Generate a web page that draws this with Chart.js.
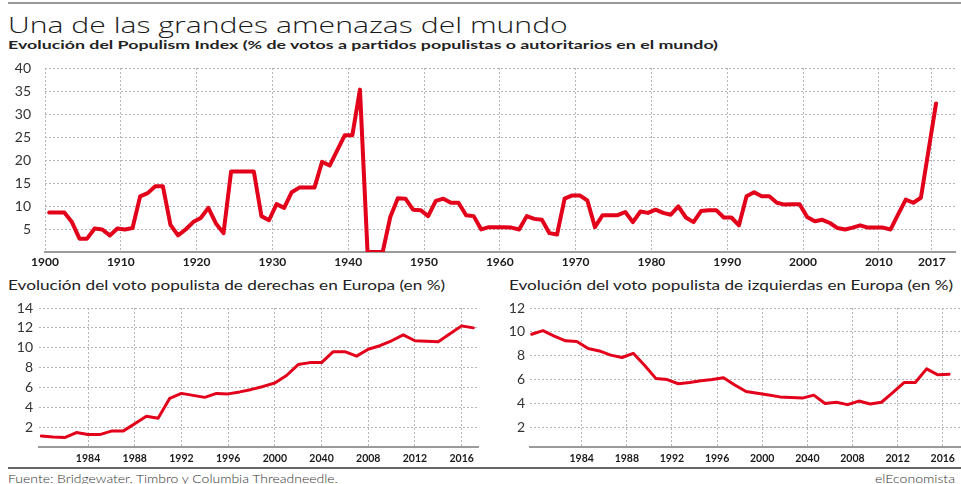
<!DOCTYPE html>
<html>
<head>
<meta charset="utf-8">
<script src="https://cdn.jsdelivr.net/npm/chart.js@4.4.1/dist/chart.umd.min.js"></script>
<style>
  body { margin: 0; background: #fff; }
  #page { position: relative; width: 961px; height: 484px; overflow: hidden; color: #222; }
  .rule { position: absolute; left: 8px; right: 0; }
  .txt { position: absolute; white-space: nowrap; line-height: 1; transform-origin: 0 0; }
  #title { left: 8px; top: 9px; font: 300 22px 'Open Sans', sans-serif; color: #1a1a1a; }
  #subtitle { left: 8px; top: 37px; font: 700 12px 'Lato', sans-serif; }
  #leftTitle { left: 8px; top: 278px; font: 400 12.5px 'Lato', sans-serif; }
  #rightTitle { left: 509px; top: 278px; font: 400 12.5px 'Lato', sans-serif; }
  #source { left: 8px; top: 472px; font: 300 11px 'Lato', sans-serif; color: #333; }
  #brand { left: 875px; top: 472px; font: 300 11px 'Lato', sans-serif; color: #333; }
  canvas { position: absolute; }
</style>
</head>
<body>
<div id="page">
  <div class="rule" style="top:2px;height:2px;background:#999;"></div>
  <div class="txt" id="title" data-width="560">Una de las grandes amenazas del mundo</div>
  <div class="txt" id="subtitle" data-width="710">Evolución del Populism Index (% de votos a partidos populistas o autoritarios en el mundo)</div>
  <canvas id="topChart" width="961" height="215" style="left:0;top:60px;"></canvas>
  <div class="txt" id="leftTitle" data-width="437">Evolución del voto populista de derechas en Europa (en %)</div>
  <div class="txt" id="rightTitle" data-width="444">Evolución del voto populista de izquierdas en Europa (en %)</div>
  <canvas id="leftChart" width="480" height="170" style="left:0;top:300px;"></canvas>
  <canvas id="rightChart" width="481" height="170" style="left:480px;top:300px;"></canvas>
  <div class="rule" style="top:467px;height:2px;background:#666;"></div>
  <div class="txt" id="source" data-width="330">Fuente: Bridgewater, Timbro y Columbia Threadneedle.</div>
  <div class="txt" id="brand" data-width="80">elEconomista</div>
</div>
<script>
'use strict';

// Populism Index, one value per year from 1900
let populismStart = 1900;
let populismIndex = [
  8.6, 8.6, 8.6, 6.5, 2.9, 2.9, 5.1, 4.9, 3.6, 5.1,
  4.9, 5.2, 12.1, 12.8, 14.3, 14.3, 5.9, 3.6, 4.9, 6.5,
  7.4, 9.6, 6.2, 4.1, 17.5, 17.5, 17.5, 17.5, 7.8, 6.9,
  10.4, 9.6, 13.0, 14.0, 14.0, 14.0, 19.6, 18.8, 22.1, 25.4,
  25.4, 35.3, 0, 0, 0, 7.6, 11.7, 11.6, 9.2, 9.1,
  7.8, 11.1, 11.6, 10.7, 10.7, 8.0, 7.8, 4.9, 5.4, 5.4,
  5.4, 5.3, 4.9, 7.8, 7.2, 7.0, 4.1, 3.8, 11.6, 12.3,
  12.3, 11.2, 5.4, 8.0, 8.0, 8.0, 8.7, 6.5, 8.8, 8.5,
  9.2, 8.5, 8.1, 9.9, 7.5, 6.5, 8.9, 9.1, 9.1, 7.5,
  7.5, 5.8, 12.1, 13.0, 12.1, 12.1, 10.7, 10.3, 10.4, 10.4,
  7.6, 6.7, 7.0, 6.3, 5.2, 4.9, 5.3, 5.8, 5.3, 5.3,
  5.3, 4.9, 8.2, 11.4, 10.7, 11.8, 22.0, 32.3
];
let populismXTicks = [1900, 1910, 1920, 1930, 1940, 1950, 1960, 1970, 1980, 1990, 2000, 2010, 2017];
let populismXLabels = ['1900', '1910', '1920', '1930', '1940', '1950', '1960', '1970', '1980', '1990', '2000', '2010', '2017'];
let populismYTicks = [5, 10, 15, 20, 25, 30, 35, 40];

// Europe, one value per year from 1980
let europeStart = 1980;
let rightWingVotes = [
  1.1, 1.0, 0.95, 1.45, 1.25, 1.25, 1.6, 1.6, 2.35, 3.1,
  2.9, 4.9, 5.4, 5.2, 5.0, 5.4, 5.35, 5.55, 5.8, 6.1,
  6.45, 7.2, 8.3, 8.5, 8.5, 9.6, 9.6, 9.15, 9.85, 10.2,
  10.7, 11.3, 10.7, 10.65, 10.6, 11.4, 12.2, 12.0
];
let leftWingVotes = [
  9.8, 10.1, 9.65, 9.25, 9.2, 8.6, 8.4, 8.05, 7.85, 8.2,
  7.2, 6.1, 6.0, 5.65, 5.75, 5.9, 6.0, 6.15, 5.55, 5.0,
  4.85, 4.7, 4.55, 4.5, 4.45, 4.7, 4.0, 4.1, 3.9, 4.2,
  3.95, 4.1, 4.9, 5.75, 5.75, 6.9, 6.4, 6.45
];
let europeXTicks = [1984, 1988, 1992, 1996, 2000, 2004, 2008, 2012, 2016];
let europeXLabels = ['1984', '1988', '1992', '1996', '2000', '2040', '2008', '2012', '2016'];
let rightWingYTicks = [2, 4, 6, 8, 10, 12, 14];
let leftWingYTicks = [2, 4, 6, 8, 10, 12];

const RED = '#e2001a';
const GRID = '#b5b5b5';
const AXIS = '#9a9a9a';

function toPoints(start, values) {
  let points = [];
  for (let i = 0; i < values.length; i++) {
    points.push({ x: start + i, y: values[i] });
  }
  return points;
}

function lineChart(id, s) {
  return new Chart(document.getElementById(id), {
    type: 'line',
    data: {
      datasets: [{
        data: s.points,
        borderColor: RED,
        borderWidth: s.lineWidth,
        pointRadius: 0,
        tension: 0,
        borderJoinStyle: 'round',
        borderCapStyle: 'round'
      }]
    },
    options: {
      responsive: false,
      animation: false,
      events: [],
      layout: { padding: { top: s.padTop, right: s.padRight, left: 0, bottom: 0 } },
      plugins: { legend: { display: false }, tooltip: { enabled: false } },
      scales: {
        x: {
          type: 'linear',
          min: s.xMin,
          max: s.xMax,
          afterBuildTicks: axis => { axis.ticks = s.xTicks.map(v => ({ value: v + s.tickShift })); },
          afterFit: axis => { axis.height = s.xAxisHeight; },
          ticks: {
            autoSkip: false,
            maxRotation: 0,
            padding: s.xPad,
            color: '#1a1a1a',
            font: { family: 'Lato', size: s.xFont, weight: 'bold' },
            callback: (v, i) => s.xLabels[i]
          },
          grid: { color: GRID, drawTicks: false, lineWidth: 1 },
          border: { display: true, color: AXIS, width: 2, dash: [2, 2] }
        },
        y: {
          min: s.yMin,
          max: s.yMax,
          afterBuildTicks: axis => { axis.ticks = s.yTicks.map(v => ({ value: v })); },
          afterFit: axis => {
            // fixed gutter, and no extra room above the top label
            axis.width = s.yAxisWidth;
            axis.paddingTop = 0;
            axis.paddingBottom = 0;
          },
          ticks: {
            padding: s.yPad,
            color: '#333',
            font: { family: 'Lato', size: 14 },
            callback: v => v
          },
          grid: { color: GRID, drawTicks: false, lineWidth: 1 },
          border: { display: false, dash: [2, 2] }
        }
      }
    }
  });
}

lineChart('topChart', {
  points: toPoints(populismStart, populismIndex),
  lineWidth: 4,
  padTop: 8, padRight: 6,
  xMin: 1899.45, xMax: 2019.5, tickShift: -0.55,
  xTicks: populismXTicks, xLabels: populismXLabels,
  xAxisHeight: 23, xPad: 3, xFont: 12,
  yMin: 0, yMax: 40, yTicks: populismYTicks,
  yAxisWidth: 45, yPad: 14
});

lineChart('leftChart', {
  points: toPoints(europeStart, rightWingVotes),
  lineWidth: 3,
  padTop: 8, padRight: 2,
  xMin: 1979.8, xMax: 2017.4, tickShift: 0,
  xTicks: europeXTicks, xLabels: europeXLabels,
  xAxisHeight: 23, xPad: 5, xFont: 10.5,
  yMin: 0, yMax: 14, yTicks: rightWingYTicks,
  yAxisWidth: 39, yPad: 6
});

lineChart('rightChart', {
  points: toPoints(europeStart, leftWingVotes),
  lineWidth: 3,
  padTop: 8, padRight: 0,
  xMin: 1979.85, xMax: 2018.05, tickShift: 0.43,
  xTicks: europeXTicks, xLabels: europeXLabels,
  xAxisHeight: 23, xPad: 5, xFont: 10.5,
  yMin: 0.35, yMax: 12, yTicks: leftWingYTicks,
  yAxisWidth: 50, yPad: 5
});

// stretch the html texts to the widths they have in the original
let texts = document.querySelectorAll('.txt');
for (let el of texts) {
  let natural = el.getBoundingClientRect().width;
  let k = Number(el.dataset.width) / natural;
  el.style.transform = 'scaleX(' + k.toFixed(3) + ')';
}
</script>
</body>
</html>
